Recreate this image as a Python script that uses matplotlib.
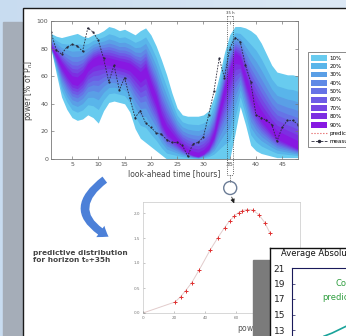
import matplotlib
matplotlib.use('Agg')
import matplotlib.pyplot as plt
import numpy as np
from matplotlib.patches import Rectangle, Circle, FancyArrowPatch, Patch
from matplotlib.lines import Line2D
from matplotlib.colors import LinearSegmentedColormap

# ---- forecast fan chart data (look-ahead hours 1..48, power in % of Pn) ----
hours = np.arange(1, 49)
upper = np.array([91, 89, 88, 89, 90, 91, 89, 88, 90, 91,
                  93, 96, 95, 93, 94, 92, 90, 93, 95, 90,
                  82, 72, 61, 48, 37, 32, 31, 31, 31, 32,
                  35, 45, 60, 77, 90, 96, 96, 95, 93, 90,
                  84, 76, 68, 63, 62, 61, 61, 60])
lower = np.array([80, 62, 45, 36, 30, 28, 29, 32, 30, 26,
                  35, 41, 42, 41, 40, 34, 22, 15, 12, 9,
                  6, 3, 0, 0, 0, 0, 0, 0, 0, 0,
                  0, 0, 0, 0, 0, 18, 38, 25, 10, 6,
                  4, 3, 2, 1, 1, 1, 1, 1])
center = np.array([81, 75, 68, 62, 57, 56, 60, 67, 71, 73,
                   72, 71, 70, 69, 68, 67, 64, 60, 64, 52,
                   42, 28, 20, 16, 12, 8, 5, 3, 2, 4,
                   8, 17, 34, 50, 63, 75, 72, 58, 46, 37,
                   30, 25, 20, 16, 14, 12, 10, 8])
measured = np.array([92, 79, 76, 81, 83, 82, 78, 95, 92, 86,
                     73, 56, 68, 50, 59, 44, 30, 35, 26, 23,
                     19, 18, 14, 12, 12, 10, 2, 11, 12, 16,
                     32, 49, 73, 59, 80, 88, 85, 68, 56, 32,
                     30, 28, 25, 13, 23, 28, 28, 25])

band_labels = ['10%', '20%', '30%', '40%', '50%', '60%', '70%', '80%', '90%']
band_scale = [1.0, 0.79, 0.64, 0.52, 0.42, 0.34, 0.26, 0.18, 0.1]
band_colors = ['#68cbef', '#59b5ea', '#5a9fe6', '#5f89e6', '#6673e6',
               '#6d5ce6', '#7546e4', '#7d2ee2', '#8818e2']

# ---- predictive density at horizon 35 h ----
pdf_power = [0, 20.6, 24.3, 27.5, 31.4, 36.3, 43.2, 48.2, 52.5, 55.7,
             58.7, 61.5, 64.0, 66.9, 70.5, 74.4, 78.3, 81.5]
pdf_dens = [0, 0.22, 0.33, 0.45, 0.61, 0.87, 1.26, 1.51, 1.71, 1.84,
            1.94, 2.01, 2.05, 2.07, 2.06, 1.97, 1.81, 1.61]

# ---- error curve (inset panel) ----
err_h = [12, 15, 18, 21, 24]
err_v = [12.2, 12.6, 13.1, 13.6, 14.1]
err_ticks = [13, 15, 17, 19, 21]

W, H = 346, 336


def box(x0, y0, x1, y1):
    # pixel rectangle -> figure fraction [left, bottom, width, height]
    return [x0 / W, 1 - y1 / H, (x1 - x0) / W, (y1 - y0) / H]


fig = plt.figure(figsize=(W / 100, H / 100), dpi=100)

# background poster
bg = fig.add_axes([0, 0, 1, 1], zorder=0)
grad = np.linspace(0, 1, 256).reshape(1, -1)
bg.imshow(grad, extent=(0, W, H, 0), aspect='auto',
          cmap=LinearSegmentedColormap.from_list('bg', ['#c8dcf0', '#dde9f6']))
bg.add_patch(Rectangle((3, 22), 19, 330, color='#a5adb8'))
bg.add_patch(Rectangle((22.5, 7.5), 360, 360, facecolor='white',
                       edgecolor='#1a1a1a', lw=1))
bg.set_xlim(0, W)
bg.set_ylim(H, 0)
bg.axis('off')

# fan chart
ax = fig.add_axes(box(51, 21, 298, 159), zorder=1)
for k in range(len(band_labels)):
    s = band_scale[k]
    lo = center - (center - lower) * s
    hi = center + (upper - center) * s
    ax.fill_between(hours, lo, hi, color=band_colors[k], lw=0)
ax.plot(hours, measured, '--', color='#2a2a3a', lw=0.6, marker='o', ms=1.6,
        mfc='#2a2a3a', mec='none', dashes=(2, 1.5))
ax.set_xlim(1, 48)
ax.set_ylim(0, 100)
ax.set_xticks(range(5, 46, 5))
ax.set_yticks(range(0, 101, 20))
ax.tick_params(direction='in', length=2, width=0.5, labelsize=4.5,
               labelcolor='#555', colors='#777', top=True, right=True, pad=2)
for sp in ax.spines.values():
    sp.set_color('#777')
    sp.set_linewidth(0.6)
ax.set_xlabel('look-ahead time [hours]', fontsize=5.5, color='#444', labelpad=2)
ax.set_ylabel('power [% of P$_n$]', fontsize=5.5, color='#444', labelpad=1)

handles = [Patch(facecolor=c, edgecolor='none') for c in band_colors]
handles.append(Line2D([], [], color='#e05050', ls=':', lw=0.8))
handles.append(Line2D([], [], color='#2a2a3a', ls='--', lw=0.6, marker='o', ms=1.5))
leg = ax.legend(handles, band_labels + ['prediction', 'measured'],
                loc='upper left', bbox_to_anchor=(308 / W, 1 - 52 / H),
                bbox_transform=fig.transFigure, fontsize=4, frameon=True,
                fancybox=False, handlelength=2.9, handleheight=1.25,
                labelspacing=0.45, borderpad=0.5, handletextpad=0.5,
                borderaxespad=0)
leg.get_frame().set_edgecolor('#555')
leg.get_frame().set_linewidth(0.6)

# predictive density
pax = fig.add_axes(box(143, 202, 300, 313), zorder=1)
pax.plot(pdf_power, pdf_dens, color='#e2cccc', lw=0.7)
pax.plot(pdf_power[1:], pdf_dens[1:], '+', color='#e03030', ms=2.5, mew=0.7)
pax.plot(pdf_power[:1], pdf_dens[:1], '+', color='#555', ms=2.5, mew=0.8)
pax.set_xlim(0, 101)
pax.set_ylim(0, 2.22)
pax.set_xticks(range(0, 101, 20))
pax.set_yticks([0, 0.5, 1, 1.5, 2])
pax.tick_params(direction='in', length=1.5, width=0.4, labelsize=3,
                labelcolor='#777', colors='#999', pad=2)
for sp in pax.spines.values():
    sp.set_color('#c8c8c8')
    sp.set_linewidth(0.5)
pax.set_xlabel('power [% of P$_n$]', fontsize=5.5, color='#555', ha='left')
pax.xaxis.set_label_coords((237 - 143) / 157, -0.08)

# connectors between the two plots
ov = fig.add_axes([0, 0, 1, 1], zorder=3)
ov.set_xlim(0, W)
ov.set_ylim(H, 0)
ov.axis('off')


def hx(h):
    return 51 + (h - 1) / 47 * (298 - 51)


xa, xb = hx(34.5), hx(35.7)
ov.plot([xa, xa], [16, 175], ':', color='#333', lw=0.6)
ov.plot([xb, xb], [16, 175], ':', color='#333', lw=0.6)
ov.plot([xa, xb], [16, 16], ':', color='#333', lw=0.6)
ov.plot([xa, xb], [175, 175], ':', color='#333', lw=0.6)
ov.text((xa + xb) / 2, 15, '35 h', fontsize=2.8, ha='center', va='bottom',
        color='#333')
cx = (xa + xb) / 2
ov.plot([cx, cx], [175, 181.5], ':', color='#333', lw=0.6)
ov.add_patch(Circle((cx, 188), 6.5, fc='white', ec='#6b7c96', lw=1))
ov.annotate('', xy=(cx + 5, 206), xytext=(cx + 0.5, 194.5),
            arrowprops=dict(arrowstyle='-|>', color='#222', lw=0.6,
                            mutation_scale=6))
ov.add_patch(FancyArrowPatch((107, 178), (111, 238),
                             connectionstyle='arc3,rad=0.8',
                             arrowstyle='simple,head_width=10,head_length=7,tail_width=5.5',
                             mutation_scale=1, color='#4c80d8', lw=0))
ov.text(33, 250, 'predictive distribution\nfor horizon t\u2080+35h', fontsize=5.3,
        fontweight='bold', color='#444', va='top', linespacing=1.15)
ov.add_patch(Rectangle((253, 260), 17, 80, color='#7b7b7b'))

# inset panel with error curve
pnl = fig.add_axes(box(269.5, 247.5, 420, 420), zorder=4)
pnl.set_xticks([])
pnl.set_yticks([])
for sp in pnl.spines.values():
    sp.set_color('#111')
    sp.set_linewidth(1)
pnl.text(281 / W, 1 - 254 / H, 'Average Absolute Error', transform=fig.transFigure,
         fontsize=6, va='center', ha='left', color='#111')

inn = fig.add_axes(box(292, 268, 420, 420), zorder=5)
inn.plot(err_h, err_v, color='#1aa39a', lw=1.2)
inn.set_xlim(0, 48)
inn.set_ylim(21 - (420 - 268) / 7.75, 21)
inn.set_yticks(err_ticks)
inn.set_xticks([])
inn.tick_params(direction='in', length=2, width=0.5, labelsize=6.5,
                labelcolor='#222', colors='#1a1a5a', pad=5)
for sp in inn.spines.values():
    sp.set_color('#1a1a5a')
    sp.set_linewidth(0.8)
inn.text(335 / W, 1 - 283 / H, 'Conventional', transform=fig.transFigure,
         fontsize=6, color='#2f9e3f', va='center')
inn.text(322 / W, 1 - 297 / H, 'prediction', transform=fig.transFigure,
         fontsize=6, color='#2f9e3f', va='center')

fig.savefig('out.png', dpi=100)
